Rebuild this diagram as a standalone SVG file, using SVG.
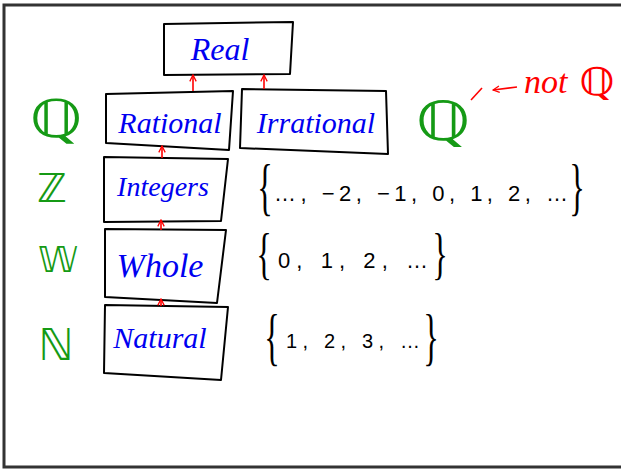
<svg xmlns="http://www.w3.org/2000/svg" width="621" height="470" viewBox="0 0 621 470">
<defs>
<style>
.box{fill:#fff;stroke:#000;stroke-width:2;stroke-linejoin:round}
.lbl{font-family:"Liberation Serif",serif;font-style:italic;fill:#0000f0;text-anchor:middle}
.sym{font-family:"DejaVu Sans",sans-serif;fill:#159a15;text-anchor:middle}
.set{font-family:"Liberation Sans",sans-serif;fill:#000}
.br{font-family:"Liberation Serif",serif;fill:#000;text-anchor:middle;font-size:36px}
.conn{stroke:#f00;stroke-width:1.6;fill:none}
.red{font-family:"Liberation Serif",serif;font-style:italic;fill:#f00}
</style>
<marker id="ah" viewBox="0 0 10 10" refX="9" refY="5" markerWidth="8" markerHeight="8" orient="auto-start-reverse" markerUnits="userSpaceOnUse">
<path d="M1,1 L9,5 L1,9" fill="none" stroke="#f00" stroke-width="1.6"/>
</marker>
</defs>
<rect width="621" height="470" fill="#fff"/>
<path d="M621,5 L4,5 L4,467 L621,467" fill="none" stroke="#333" stroke-width="3"/>

<g id="real">
<polygon class="box" points="164,24 293,22 290,74 164,75"/>
<text class="lbl" x="220" y="60" font-size="32">Real</text>
</g>
<g id="rational">
<polygon class="box" points="106,94 233,91 229,150 106,143"/>
<text class="lbl" x="170" y="133" font-size="30">Rational</text>
</g>
<g id="irrational">
<polygon class="box" points="242,89 386,91 388,154 240,148"/>
<text class="lbl" x="316" y="133" font-size="30">Irrational</text>
</g>
<g id="integers">
<polygon class="box" points="104,157 228,159 221,221 104,222"/>
<text class="lbl" x="163" y="196" font-size="28">Integers</text>
</g>
<g id="whole">
<polygon class="box" points="105,229 226,230 217,303 105,297"/>
<text class="lbl" x="160" y="277" font-size="34">Whole</text>
</g>
<g id="natural">
<polygon class="box" points="105,305 228,307 221,380 104,373"/>
<text class="lbl" x="160" y="348" font-size="30">Natural</text>
</g>

<g id="connectors">
<path class="conn" d="M193,91 L193,75" marker-end="url(#ah)"/>
<path class="conn" d="M264,89 L264,75" marker-end="url(#ah)"/>
<path class="conn" d="M162,158 L162,146" marker-end="url(#ah)"/>
<path class="conn" d="M161,230 L161,220" marker-end="url(#ah)"/>
<path class="conn" d="M161,306 L161,299" marker-end="url(#ah)"/>
</g>

<g id="symbols">
<text class="sym" transform="translate(56,137) scale(1.3,1)" font-size="52">ℚ</text>
<text class="sym" transform="translate(443,140) scale(1.3,1)" font-size="54">ℚ</text>
<text class="sym" x="52" y="202" font-size="40">ℤ</text>
<text class="sym" x="58" y="272" font-size="36">𝕎</text>
<text class="sym" x="56" y="360" font-size="44">ℕ</text>
</g>

<g id="not-q">
<path class="conn" d="M471,100 L482,88"/>
<path class="conn" d="M517,87 L493,90" marker-end="url(#ah)"/>
<text class="red" x="524" y="93" font-size="34">not</text>
<text transform="translate(597,95) scale(1.2,1)" font-size="38" font-family="DejaVu Sans,sans-serif" fill="#f00" text-anchor="middle">ℚ</text>
</g>

<g id="sets">
<text class="br" transform="translate(265,208) scale(0.9,1.75)">{</text>
<text class="set" x="274" y="201" font-size="22" textLength="294" lengthAdjust="spacing">…, −2, −1, 0, 1, 2, …</text>
<text class="br" transform="translate(577,208) scale(0.9,1.75)">}</text>

<text class="br" transform="translate(264,273) scale(0.9,1.6)">{</text>
<text class="set" x="278" y="268" font-size="22" textLength="150" lengthAdjust="spacing">0, 1, 2, …</text>
<text class="br" transform="translate(440,273) scale(0.9,1.6)">}</text>

<text class="br" transform="translate(272,358) scale(0.9,1.75)">{</text>
<text class="set" x="286" y="348" font-size="20" textLength="134" lengthAdjust="spacing">1, 2, 3, …</text>
<text class="br" transform="translate(431,358) scale(0.9,1.75)">}</text>
</g>
</svg>
